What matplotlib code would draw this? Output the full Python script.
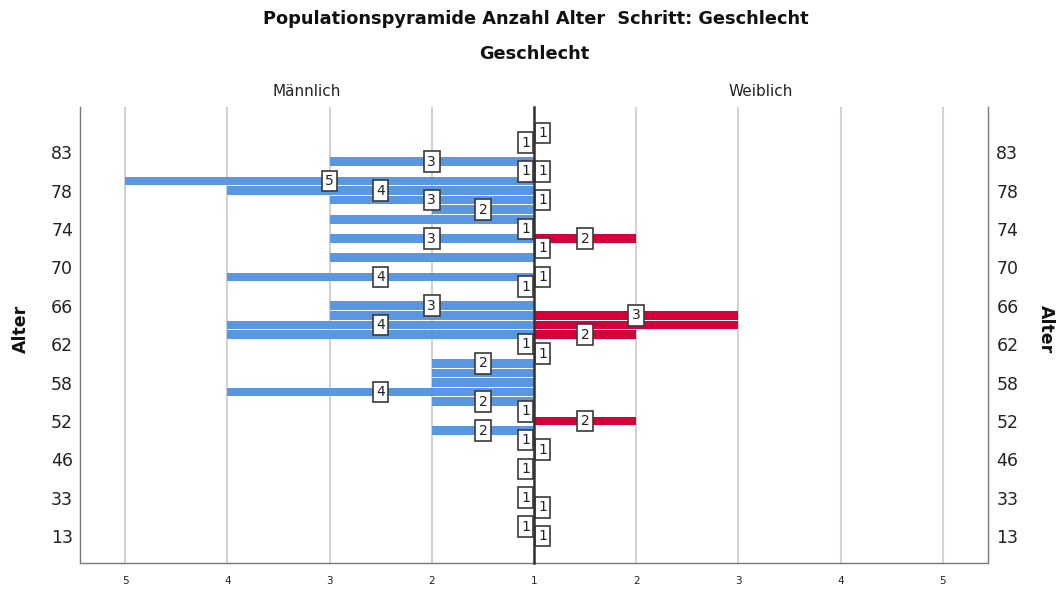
import matplotlib.pyplot as plt

# Alter categories (bottom to top) and counts per Geschlecht
ages = [13, 18, 24, 29, 33, 36, 40, 43, 46, 48, 49, 51, 52, 54, 55, 57, 58, 59, 60, 61, 62,
        63, 64, 65, 66, 67, 68, 69, 70, 71, 72, 73, 74, 75, 76, 77, 78, 79, 80, 82, 83, 85, 87]
maennlich = [0, 1, 0, 0, 1, 0, 0, 1, 0, 0, 1, 2, 0, 1, 2, 4, 2, 2, 2, 0, 1,
             4, 4, 3, 3, 0, 1, 4, 0, 3, 0, 3, 1, 3, 2, 3, 4, 5, 1, 3, 0, 1, 0]
weiblich = [1, 0, 0, 1, 0, 0, 0, 0, 0, 1, 0, 0, 2, 0, 0, 0, 0, 0, 0, 1, 0,
            2, 3, 3, 0, 0, 0, 1, 0, 0, 1, 2, 0, 0, 0, 1, 0, 0, 1, 0, 0, 0, 1]
tick_step = 4
x_ticks = [1, 2, 3, 4, 5]

BLUE = "#5A97E2"
RED = "#D5003A"
GRID = "#d2d2d2"

fig = plt.figure(figsize=(10.59, 5.89), dpi=100)
W, H = 1059, 589
left, mid, right, bottom, top = 80, 534, 988, 563, 107
ax_m = fig.add_axes([left / W, 1 - bottom / H, (mid - left) / W, (bottom - top) / H])
ax_f = fig.add_axes([mid / W, 1 - bottom / H, (right - mid) / W, (bottom - top) / H])
ax_f.patch.set_alpha(0)

xmax = 1 + (mid - left) / 102.2
ylo, yhi = -2.8, 44.7


def draw_side(ax, counts, color, sign):
    pos = [i for i, c in enumerate(counts) if c > 0]
    vals = [counts[i] for i in pos]
    ax.barh(pos, [v - 1 for v in vals], left=1, height=0.88, color=color, zorder=2)
    box = dict(boxstyle="square,pad=0.24", fc="white", ec="#3a3a3a", lw=1.2)
    last = {}
    for i in reversed(range(len(counts))):
        c = counts[i]
        if c == 0:
            continue
        if c == 1:
            ax.annotate("1", (1, i), xytext=(sign * 2.9, 0), textcoords="offset points",
                        ha="left" if sign > 0 else "right", va="center", fontsize=10,
                        bbox=box, zorder=5, annotation_clip=False, color="#222222")
            continue
        xm = (1 + c) / 2
        if xm in last and last[xm] - i <= 2:
            continue
        last[xm] = i
        ax.text(xm, i, str(c), ha="center", va="center", fontsize=10, bbox=box, zorder=5,
                color="#222222")


draw_side(ax_m, maennlich, BLUE, -1)
draw_side(ax_f, weiblich, RED, 1)

ticks = list(range(0, len(ages), tick_step))
for ax in (ax_m, ax_f):
    ax.set_ylim(ylo, yhi)
    ax.set_xticks(x_ticks)
    ax.set_yticks(ticks)
    ax.grid(axis="x", color=GRID, lw=1.5, zorder=0)
    ax.set_axisbelow(True)
    ax.tick_params(axis="x", length=0, labelsize=7.5, pad=9, labelcolor="#222222")
    ax.tick_params(axis="y", length=0, labelsize=12.5, labelcolor="#222222")
    ax.spines["top"].set_visible(False)
    for s in ("left", "right", "bottom"):
        ax.spines[s].set_color("#7a7a7a")
        ax.spines[s].set_linewidth(1.0)

ax_m.set_xlim(xmax, 1)
ax_f.set_xlim(1, xmax)
ax_m.set_yticklabels([ages[i] for i in ticks])
ax_m.tick_params(axis="y", pad=5)
ax_m.spines["right"].set_visible(False)
ax_f.yaxis.tick_right()
ax_f.set_yticklabels([ages[i] for i in ticks])
ax_f.tick_params(axis="y", pad=6, left=False, labelleft=False, right=False, labelright=True)
ax_f.set_xticklabels([""] + [str(t) for t in x_ticks[1:]])
ax_f.spines["left"].set_color("#333333")
ax_f.spines["left"].set_linewidth(1.8)
ax_f.spines["left"].set_zorder(6)

fig.text(536 / W, 1 - 19 / H, "Populationspyramide Anzahl Alter  Schritt: Geschlecht",
         ha="center", va="center", fontsize=12.8, fontweight="bold", color="#111111")
fig.text(534 / W, 1 - 54 / H, "Geschlecht", ha="center", va="center",
         fontsize=12.8, fontweight="bold", color="#111111")
fig.text(307 / W, 1 - 91 / H, "Männlich", ha="center", va="center", fontsize=11, color="#222222")
fig.text(761 / W, 1 - 91 / H, "Weiblich", ha="center", va="center", fontsize=11, color="#222222")
fig.text(21 / W, 1 - 329 / H, "Alter", ha="center", va="center", rotation=90,
         fontsize=12.5, fontweight="bold", color="#111111")
fig.text(1046 / W, 1 - 329 / H, "Alter", ha="center", va="center", rotation=-90,
         fontsize=12.5, fontweight="bold", color="#111111")

fig.savefig("out.png", dpi=100)
